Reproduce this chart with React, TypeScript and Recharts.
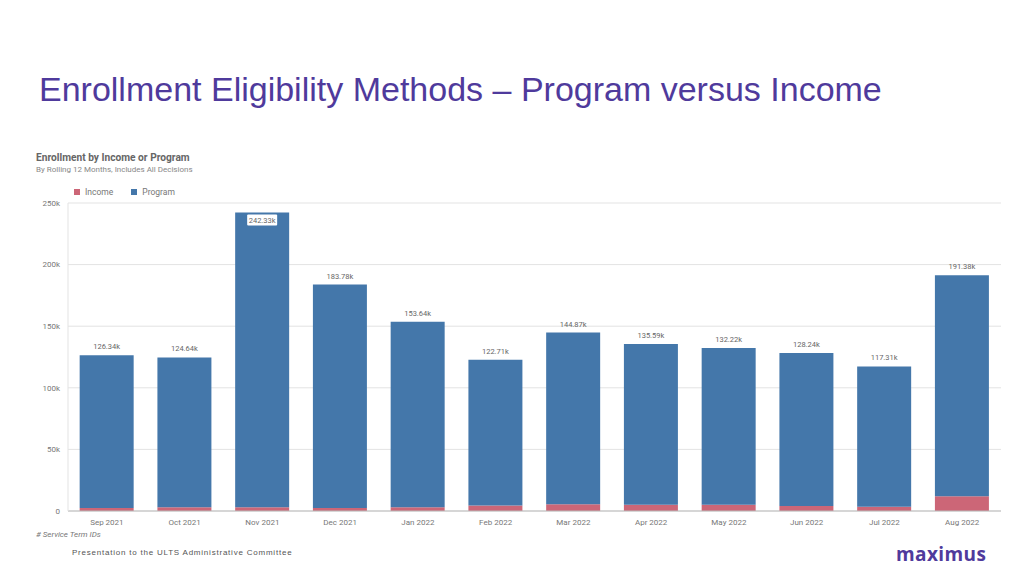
import React from 'react';
import { BarChart, Bar, XAxis, YAxis, CartesianGrid, LabelList } from 'recharts';

const months = ['Sep 2021', 'Oct 2021', 'Nov 2021', 'Dec 2021', 'Jan 2022', 'Feb 2022', 'Mar 2022', 'Apr 2022', 'May 2022', 'Jun 2022', 'Jul 2022', 'Aug 2022'];
// totals shown as bar labels (thousands)
const totals = [126.34, 124.64, 242.33, 183.78, 153.64, 122.71, 144.87, 135.59, 132.22, 128.24, 117.31, 191.38];
// income part estimated from the red segments (thousands)
const income = [2.5, 3, 3, 2.5, 3, 4.5, 5.5, 5, 5, 4, 3.5, 12];
const yTicks = [0, 50000, 100000, 150000, 200000, 250000];

const BLUE = '#4477aa';
const RED = '#cc6677';
const CHART_FONT = 'Roboto, sans-serif';

const data = months.map((m, i) => ({
  month: m,
  income: income[i] * 1000,
  program: (totals[i] - income[i]) * 1000,
}));

const TotalLabel = (props: any) => {
  const { x, y, width, index } = props;
  const text = `${totals[index].toFixed(2)}k`;
  const cx = x + width / 2;
  if (totals[index] > 230) {
    // label sits inside the tall bar with a white box
    return (
      <g>
        <rect x={cx - 15} y={y + 2} width={30} height={11} rx={1} fill="#fff" />
        <text x={cx} y={y + 10.5} textAnchor="middle" fontSize={7.5} fill="#666" fontFamily={CHART_FONT}>{text}</text>
      </g>
    );
  }
  return (
    <text x={cx} y={y - 6} textAnchor="middle" fontSize={7.5} fill="#666" fontFamily={CHART_FONT}>{text}</text>
  );
};

export default function App() {
  return (
    <div style={{ position: 'absolute', left: 0, top: 0, width: 1024, height: 576, background: '#fff', overflow: 'hidden' }}>
      <div style={{ position: 'absolute', left: 39, top: 70, fontFamily: '"Liberation Sans", Arial, sans-serif', fontSize: 34, color: '#4f3a9c', whiteSpace: 'nowrap' }}>
        Enrollment Eligibility Methods – Program versus Income
      </div>

      <div style={{ position: 'absolute', left: 36, top: 152, fontFamily: CHART_FONT, fontSize: 10.2, fontWeight: 700, color: '#666' }}>
        Enrollment by Income or Program
      </div>
      <div style={{ position: 'absolute', left: 36, top: 165, fontFamily: CHART_FONT, fontSize: 8, color: '#888' }}>
        By Rolling 12 Months, Includes All Decisions
      </div>

      <div style={{ position: 'absolute', left: 74, top: 187, fontFamily: CHART_FONT, fontSize: 8.5, color: '#777', display: 'flex', alignItems: 'center' }}>
        <span style={{ width: 6, height: 6, background: RED, display: 'inline-block', marginRight: 5 }} />
        <span style={{ marginRight: 18 }}>Income</span>
        <span style={{ width: 6, height: 6, background: BLUE, display: 'inline-block', marginRight: 5 }} />
        <span>Program</span>
      </div>

      <div style={{ position: 'absolute', left: 0, top: 0 }}>
        <BarChart
          width={1024}
          height={576}
          data={data}
          margin={{ top: 203, right: 23, bottom: 35, left: 28 }}
          barCategoryGap="15%"
        >
          <CartesianGrid vertical={false} stroke="#e3e3e3" />
          <XAxis
            dataKey="month"
            axisLine={{ stroke: '#bbb' }}
            tickLine={false}
            tickMargin={2}
            tick={{ fontSize: 8, fill: '#777', fontFamily: CHART_FONT }}
            height={30}
          />
          <YAxis
            domain={[0, 250000]}
            ticks={yTicks}
            width={40}
            axisLine={{ stroke: '#e3e3e3' }}
            tickLine={false}
            tickMargin={2}
            tick={{ fontSize: 8, fill: '#777', fontFamily: CHART_FONT }}
            tickFormatter={(v: number) => (v === 0 ? '0' : `${v / 1000}k`)}
          />
          <Bar dataKey="income" stackId="a" fill={RED} isAnimationActive={false} />
          <Bar dataKey="program" stackId="a" fill={BLUE} isAnimationActive={false}>
            <LabelList dataKey="program" content={TotalLabel} />
          </Bar>
        </BarChart>
      </div>

      <div style={{ position: 'absolute', left: 36, top: 530, fontFamily: CHART_FONT, fontSize: 8, fontStyle: 'italic', color: '#777' }}>
        # Service Term IDs
      </div>

      <div style={{ position: 'absolute', left: 72, top: 548, fontFamily: '"Liberation Sans", Arial, sans-serif', fontSize: 8, letterSpacing: 0.78, color: '#555' }}>
        Presentation to the ULTS Administrative Committee
      </div>

      <div style={{ position: 'absolute', left: 896, top: 541, fontFamily: '"Open Sans", sans-serif', fontSize: 19, fontWeight: 700, color: '#4f3a9c', letterSpacing: 0.4 }}>
        maximus
      </div>
    </div>
  );
}
